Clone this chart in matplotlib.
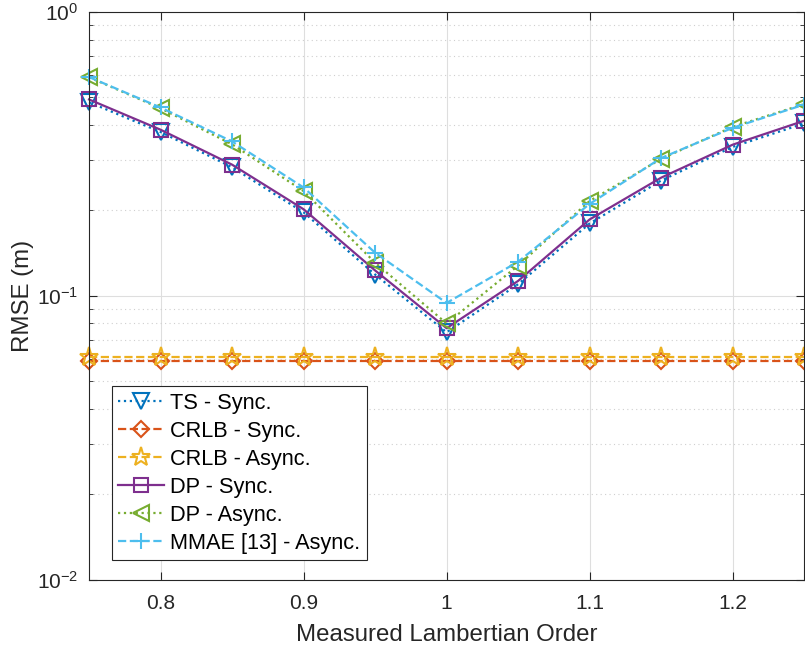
import matplotlib
matplotlib.use("Agg")
import matplotlib.pyplot as plt
from matplotlib.ticker import LogLocator, NullFormatter

plt.rcParams['font.family'] = ['Liberation Sans', 'DejaVu Sans']
plt.rcParams['mathtext.fontset'] = 'custom'
plt.rcParams['mathtext.rm'] = 'Liberation Sans'
plt.rcParams['mathtext.it'] = 'Liberation Sans'

order = [0.75, 0.8, 0.85, 0.9, 0.95, 1.0, 1.05, 1.1, 1.15, 1.2, 1.25]

ts_sync = [0.481, 0.378, 0.284, 0.197, 0.119, 0.0745, 0.110, 0.180, 0.255, 0.335, 0.405]
crlb_sync = [0.059] * 11
crlb_async = [0.0612] * 11
dp_sync = [0.492, 0.385, 0.290, 0.202, 0.123, 0.077, 0.113, 0.186, 0.261, 0.341, 0.414]
dp_async = [0.589, 0.458, 0.342, 0.234, 0.131, 0.080, 0.128, 0.216, 0.304, 0.394, 0.474]
mmae_async = [0.590, 0.461, 0.350, 0.241, 0.142, 0.0945, 0.132, 0.211, 0.306, 0.391, 0.472]

labels = ["TS - Sync.", "CRLB - Sync.", "CRLB - Async.", "DP - Sync.",
          "DP - Async.", "MMAE [13] - Async."]

blue = (0, 0.447, 0.741)
orange = (0.85, 0.325, 0.098)
yellow = (0.929, 0.694, 0.125)
purple = (0.494, 0.184, 0.556)
green = (0.466, 0.674, 0.188)
cyan = (0.301, 0.745, 0.933)

fig = plt.figure(figsize=(8.05, 6.48), dpi=100)
ax = fig.add_axes([0.1106, 0.105, 0.8884, 0.8765])

series = [
    (ts_sync, blue, ':', 'v'),
    (crlb_sync, orange, '--', 'D'),
    (crlb_async, yellow, '--', '*'),
    (dp_sync, purple, '-', 's'),
    (dp_async, green, ':', '<'),
    (mmae_async, cyan, '--', '+'),
]

for (vals, col, ls, mk), lab in zip(series, labels):
    ms = 11
    if mk == 'D':
        ms = 8.5
    if mk == 's':
        ms = 9.5
    if mk == '*':
        ms = 14
    if mk == '+':
        ms = 12
    ax.plot(order, vals, color=col, linestyle=ls, marker=mk, markersize=ms,
            markerfacecolor='none', markeredgecolor=col, markeredgewidth=1.5,
            linewidth=1.6, label=lab, clip_on=False)

ax.set_yscale('log')
ax.set_xlim(0.75, 1.25)
ax.set_ylim(1e-2, 1e0)
ax.set_xticks([0.8, 0.9, 1.0, 1.1, 1.2])
ax.set_xticklabels(["0.8", "0.9", "1", "1.1", "1.2"])
ax.yaxis.set_minor_locator(LogLocator(base=10, subs=range(2, 10)))
ax.yaxis.set_minor_formatter(NullFormatter())

ax.grid(True, which='major', color='#dedede', linestyle='-', linewidth=0.8)
ax.grid(True, which='minor', axis='y', color='#cfcfcf', linestyle=(0, (1, 3)), linewidth=0.8)
ax.set_axisbelow(True)

ax.tick_params(which='both', direction='in', top=True, right=True, labelsize=15,
               colors='#262626')
ax.tick_params(which='major', length=6)
ax.tick_params(which='minor', length=3)
ax.tick_params(axis='x', pad=10)
ax.tick_params(axis='y', pad=8)
for sp in ax.spines.values():
    sp.set_color('#262626')
    sp.set_linewidth(0.8)

ax.set_xlabel("Measured Lambertian Order", fontsize=17.3, color='#262626', labelpad=8)
ax.set_ylabel("RMSE (m)", fontsize=17.3, color='#262626', labelpad=2)

leg = ax.legend(loc='lower left', bbox_to_anchor=(0.032, 0.035), borderaxespad=0,
                fontsize=15.7, handlelength=2.1, handletextpad=0.27,
                labelspacing=0.32, borderpad=0.3, fancybox=False, framealpha=1)
leg.get_frame().set_edgecolor('#262626')
leg.get_frame().set_linewidth(0.8)

fig.savefig("out.png", dpi=100)
